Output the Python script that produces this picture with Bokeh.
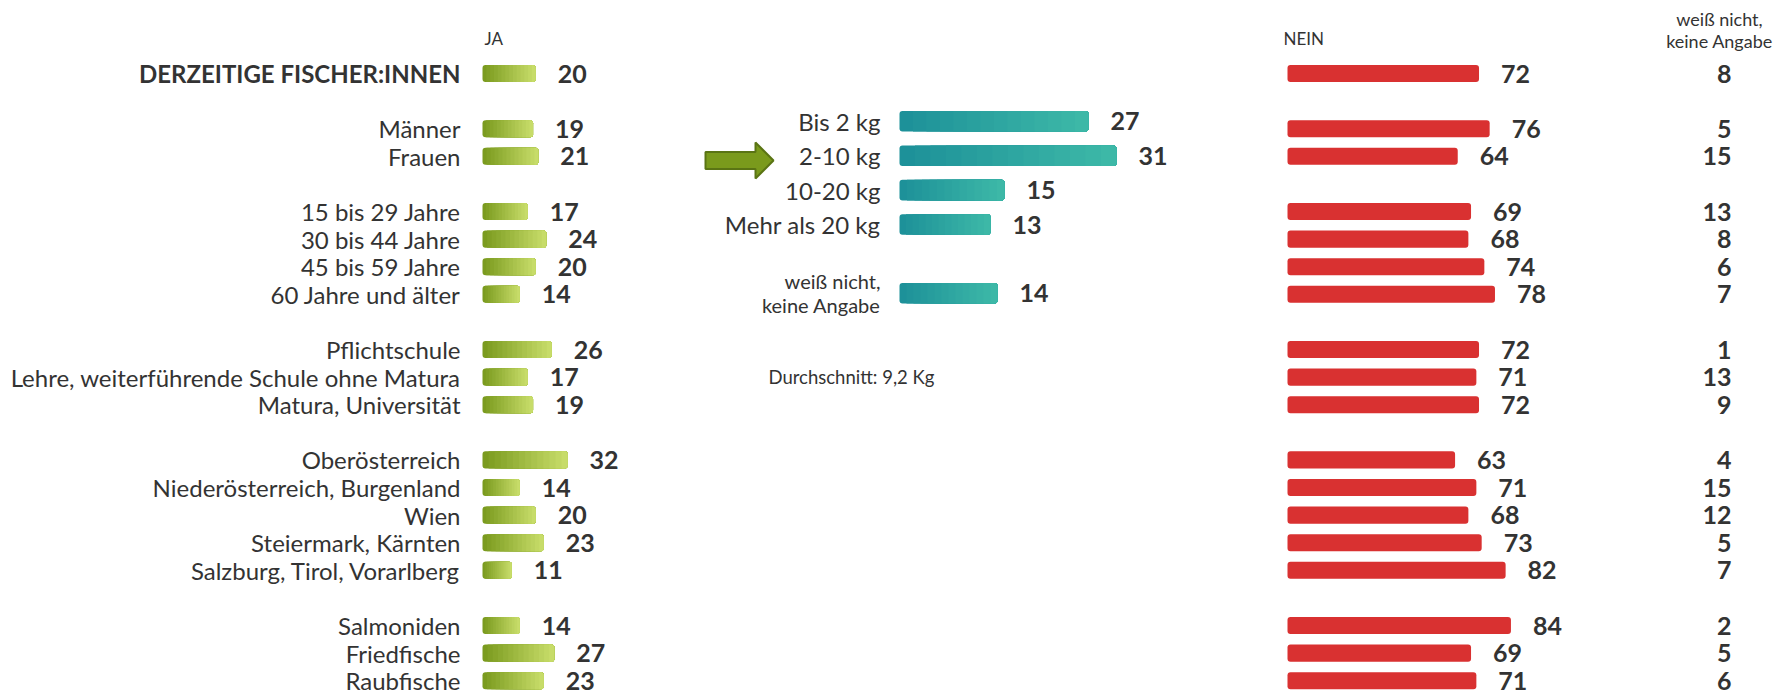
from bokeh.plotting import figure
from bokeh.models import Range1d, ColumnDataSource
from bokeh.core.properties import value
from bokeh.embed import file_html
from bokeh.resources import INLINE

# ---------------- data ----------------
categories = [
    "DERZEITIGE FISCHER:INNEN",
    "Männer", "Frauen",
    "15 bis 29 Jahre", "30 bis 44 Jahre", "45 bis 59 Jahre", "60 Jahre und älter",
    "Pflichtschule", "Lehre, weiterführende Schule ohne Matura", "Matura, Universität",
    "Oberösterreich", "Niederösterreich, Burgenland", "Wien", "Steiermark, Kärnten",
    "Salzburg, Tirol, Vorarlberg",
    "Salmoniden", "Friedfische", "Raubfische",
]
group_sizes = [1, 2, 4, 3, 5, 3]
ja = [20, 19, 21, 17, 24, 20, 14, 26, 17, 19, 32, 14, 20, 23, 11, 14, 27, 23]
nein = [72, 76, 64, 69, 68, 74, 78, 72, 71, 72, 63, 71, 68, 73, 82, 84, 69, 71]
weiss_nicht = [8, 5, 15, 13, 8, 6, 7, 1, 13, 9, 4, 15, 12, 5, 7, 2, 5, 6]

size_categories = ["Bis 2 kg", "2-10 kg", "10-20 kg", "Mehr als 20 kg",
                   "weiß nicht,\nkeine Angabe"]
size_group_sizes = [4, 1]
size_values = [27, 31, 15, 13, 14]
average_note = "Durchschnitt: 9,2 Kg"

header_ja = "JA"
header_nein = "NEIN"
header_ka = "weiß nicht,\nkeine Angabe"

# ---------------- layout helpers ----------------
W, H = 1779, 697
FONT = value("Lato")
TXT = "#333333"


def rows_for(sizes):
    rows, r = [], 0
    for s in sizes:
        rows += list(range(r, r + s))
        r += s + 1
    return rows


def pixel_range(zero_px, px_per_unit, total, flip=False):
    a = -zero_px / px_per_unit
    b = (total - zero_px) / px_per_unit
    return Range1d(b, a) if flip else Range1d(a, b)


def mix(c0, c1, t):
    return "#%02x%02x%02x" % tuple(int(round(c0[i] + (c1[i] - c0[i]) * t)) for i in range(3))


main_rows = rows_for(group_sizes)
size_rows = rows_for(size_group_sizes)

p = figure(width=W, height=H, output_backend="svg", toolbar_location=None,
           x_range=Range1d(0, W), y_range=Range1d(H, 0),
           x_axis_type=None, y_axis_type=None, min_border=0)
p.outline_line_color = None
p.grid.visible = False
p.background_fill_color = "white"
p.border_fill_color = "white"

p.extra_y_ranges = {
    "rows": pixel_range(73, 27.6, H, flip=True),
    "sizes": pixel_range(120.8, 34.4, H, flip=True),
}
p.extra_x_ranges = {
    "ja": pixel_range(482, 2.66, W),
    "nein": pixel_range(1287, 2.66, W),
    "size": pixel_range(899, 7.0, W),
}


def gradient_bars(values, rows, c0, c1, height, xr, yr, n=14, r=3):
    for k in range(n):
        t = (k + 0.5) / n
        src = ColumnDataSource(dict(y=rows, left=[v * k / n for v in values], right=values))
        p.hbar(y="y", left="left", right="right", height=height, source=src,
               fill_color=mix(c0, c1, t), line_color=None,
               border_radius=r if k == 0 else (0, r, r, 0),
               x_range_name=xr, y_range_name=yr)


# green "JA" bars
gradient_bars(ja, main_rows, (120, 153, 28), (202, 222, 108), 0.62, "ja", "rows")
# red "NEIN" bars
p.hbar(y=main_rows, left=0, right=nein, height=0.62, fill_color="#d93131",
       line_color=None, border_radius=3, x_range_name="nein", y_range_name="rows")
# teal size bars
gradient_bars(size_values, size_rows, (28, 143, 152), (62, 186, 168), 0.6, "size", "sizes")

# row labels
label_src = ColumnDataSource(dict(x=[0] * (len(categories) - 1), y=main_rows[1:], text=categories[1:]))
p.text(x="x", y="y", text="text", source=label_src, text_font=FONT, text_font_size="24px",
       text_color=TXT, text_align="right", text_baseline="middle", x_offset=-22,
       x_range_name="ja", y_range_name="rows")
p.text(x=[0], y=main_rows[:1], text=categories[:1], text_font=FONT, text_font_size="24px",
       text_font_style="bold", text_color=TXT, text_align="right", text_baseline="middle",
       x_offset=-22, x_range_name="ja", y_range_name="rows")

# value labels
bold = dict(text_font=FONT, text_font_size="25px", text_font_style="bold",
            text_color=TXT, text_baseline="middle")
p.text(x=ja, y=main_rows, text=[str(v) for v in ja], text_align="left", x_offset=22,
       x_range_name="ja", y_range_name="rows", **bold)
p.text(x=nein, y=main_rows, text=[str(v) for v in nein], text_align="left", x_offset=22,
       x_range_name="nein", y_range_name="rows", **bold)
p.text(x=[1731] * len(weiss_nicht), y=main_rows, text=[str(v) for v in weiss_nicht],
       text_align="right", y_range_name="rows", **bold)
p.text(x=size_values, y=size_rows, text=[str(v) for v in size_values], text_align="left",
       x_offset=22, x_range_name="size", y_range_name="sizes", **bold)

# size labels
p.text(x=[0] * 4, y=size_rows[:4], text=size_categories[:4], text_font=FONT,
       text_font_size="24px", text_color=TXT, text_align="right", text_baseline="middle",
       x_offset=-19, x_range_name="size", y_range_name="sizes")
p.text(x=[0], y=size_rows[4:], text=size_categories[4:], text_font=FONT,
       text_font_size="20px", text_color=TXT, text_align="right", text_baseline="middle",
       text_line_height=1.0, x_offset=-19, x_range_name="size", y_range_name="sizes")

# headers and notes (pixel coordinates)
p.text(x=[484], y=[37.5], text=[header_ja], text_font=FONT, text_font_size="17px",
       text_color=TXT, text_align="left", text_baseline="middle")
p.text(x=[1283], y=[37.5], text=[header_nein], text_font=FONT, text_font_size="17px",
       text_color=TXT, text_align="left", text_baseline="middle")
p.text(x=[1719], y=[29], text=[header_ka], text_font=FONT, text_font_size="18px",
       text_color=TXT, text_align="center", text_baseline="middle", text_line_height=1.0)
p.text(x=[768], y=[376.7], text=[average_note], text_font=FONT, text_font_size="18.5px",
       text_color=TXT, text_align="left", text_baseline="middle")

# arrow pointing at the 2-10 kg row
ax, ay = 705, 160
p.patch(x=[ax, ax + 50, ax + 50, ax + 68, ax + 50, ax + 50, ax],
        y=[ay - 8.5, ay - 8.5, ay - 18, ay, ay + 18, ay + 8.5, ay + 8.5],
        fill_color="#7a9a1c", line_color="#5a7414", line_width=2)

open("out.html", "w").write(file_html(p, INLINE))
